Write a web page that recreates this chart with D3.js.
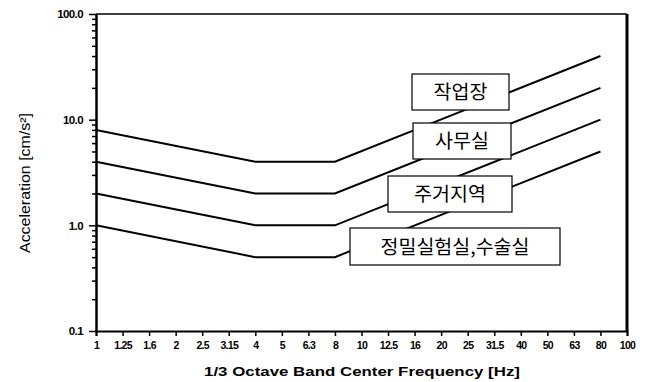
<!DOCTYPE html>
<html><head><meta charset="utf-8">
<script src="https://cdn.jsdelivr.net/npm/d3@7"></script>
<style>
html,body{margin:0;padding:0;background:#fff;}
svg{display:block;}
</style>
</head><body>
<svg id="chart" width="649" height="382"></svg>
<script>
// ---- data ----
const bandLabels = ["1","1.25","1.6","2","2.5","3.15","4","5","6.3","8","10","12.5","16","20","25","31.5","40","50","63","80","100"];
const breakFreqs = ["1","4","8","80"];
const seriesNames = ["작업장","사무실","주거지역","정밀실험실,수술실"];
const workshop   = [8, 4, 4, 40];
const office     = [4, 2, 2, 20];
const residence  = [2, 1, 1, 10];
const precision  = [1, 0.5, 0.5, 5];
const yTickValues = [0.1, 1, 10, 100];
const yTickLabels = ["0.1","1.0","10.0","100.0"];
const xTitle = "1/3 Octave Band Center Frequency [Hz]";
const yTitle = "Acceleration [cm/s²]";

const seriesValues = [workshop, office, residence, precision];

// ---- layout ----
const svg = d3.select("#chart");
const mLeft = 96, mRight = 627, mTop = 14, mBottom = 331;

const x = d3.scalePoint().domain(bandLabels).range([mLeft, mRight]);
const y = d3.scaleLog().domain([0.1, 100]).range([mBottom, mTop]);

const fontTick = "'Liberation Sans', Arial, sans-serif";

// series lines
const line = d3.line().x(d => x(d[0])).y(d => y(d[1]));
seriesValues.forEach(vals => {
  svg.append("path")
    .attr("d", line(breakFreqs.map((f, i) => [f, vals[i]])))
    .attr("fill", "none").attr("stroke", "#000").attr("stroke-width", 2);
});

// frame: top and right
svg.append("line").attr("x1", mLeft).attr("x2", mRight).attr("y1", mTop).attr("y2", mTop)
  .attr("stroke", "#000").attr("stroke-width", 1.5);
svg.append("line").attr("x1", mRight).attr("x2", mRight).attr("y1", mTop).attr("y2", mBottom)
  .attr("stroke", "#000").attr("stroke-width", 3);

// x axis
const xAxis = d3.axisBottom(x).tickSizeOuter(0).tickSize(5).tickPadding(6);
const gx = svg.append("g").attr("transform", `translate(0,${mBottom})`).call(xAxis);
gx.select(".domain").attr("stroke-width", 2);
gx.selectAll(".tick line").attr("stroke-width", 1.5);
gx.selectAll("text").attr("font-family", fontTick).attr("font-size", 10.5)
  .attr("font-weight", "bold").attr("fill", "#000").attr("letter-spacing", "-0.7");

// y axis with minor ticks
const minorTicks = y.ticks().filter(v => !yTickValues.some(t => Math.abs(t - v) < 1e-9));
const gyMinor = svg.append("g").attr("transform", `translate(${mLeft},0)`)
  .call(d3.axisLeft(y).tickValues(minorTicks).tickSize(4).tickFormat(""));
gyMinor.select(".domain").remove();
gyMinor.selectAll(".tick line").attr("stroke-width", 1.5);

const gy = svg.append("g").attr("transform", `translate(${mLeft},0)`)
  .call(d3.axisLeft(y).tickValues(yTickValues).tickSize(7).tickSizeOuter(0).tickPadding(6)
    .tickFormat((d, i) => yTickLabels[i]));
gy.select(".domain").attr("stroke-width", 2.5);
gy.selectAll(".tick line").attr("stroke-width", 1.5);
gy.selectAll("text").attr("font-family", fontTick).attr("font-size", 11.5)
  .attr("font-weight", "bold").attr("fill", "#000").attr("letter-spacing", "-0.6");

// axis titles
svg.append("text").attr("x", 362).attr("y", 376).attr("text-anchor", "middle")
  .attr("font-family", fontTick).attr("font-size", 12.5).attr("font-weight", "bold")
  .attr("textLength", 316).attr("lengthAdjust", "spacingAndGlyphs")
  .text(xTitle);
svg.append("text").attr("transform", "translate(30,183) rotate(-90)")
  .attr("text-anchor", "middle")
  .attr("font-family", fontTick).attr("font-size", 14.5)
  .attr("textLength", 140).attr("lengthAdjust", "spacingAndGlyphs")
  .text(yTitle);

// annotation boxes
const boxLayout = [
  {x: 412, y: 74, w: 97, h: 36},
  {x: 413, y: 123, w: 98, h: 36},
  {x: 388, y: 176, w: 124, h: 36},
  {x: 350, y: 228, w: 210, h: 37}
];
seriesNames.forEach((name, i) => {
  const b = boxLayout[i];
  svg.append("rect").attr("x", b.x).attr("y", b.y).attr("width", b.w).attr("height", b.h)
    .attr("fill", "#fff").attr("stroke", "#000").attr("stroke-width", 1.2);
  svg.append("text").attr("x", b.x + b.w / 2).attr("y", b.y + b.h / 2 + 7)
    .attr("text-anchor", "middle")
    .attr("font-family", "'Noto Sans CJK KR', sans-serif").attr("font-size", 19.5)
    .attr("fill", "#000").text(name);
});
</script>
</body></html>
